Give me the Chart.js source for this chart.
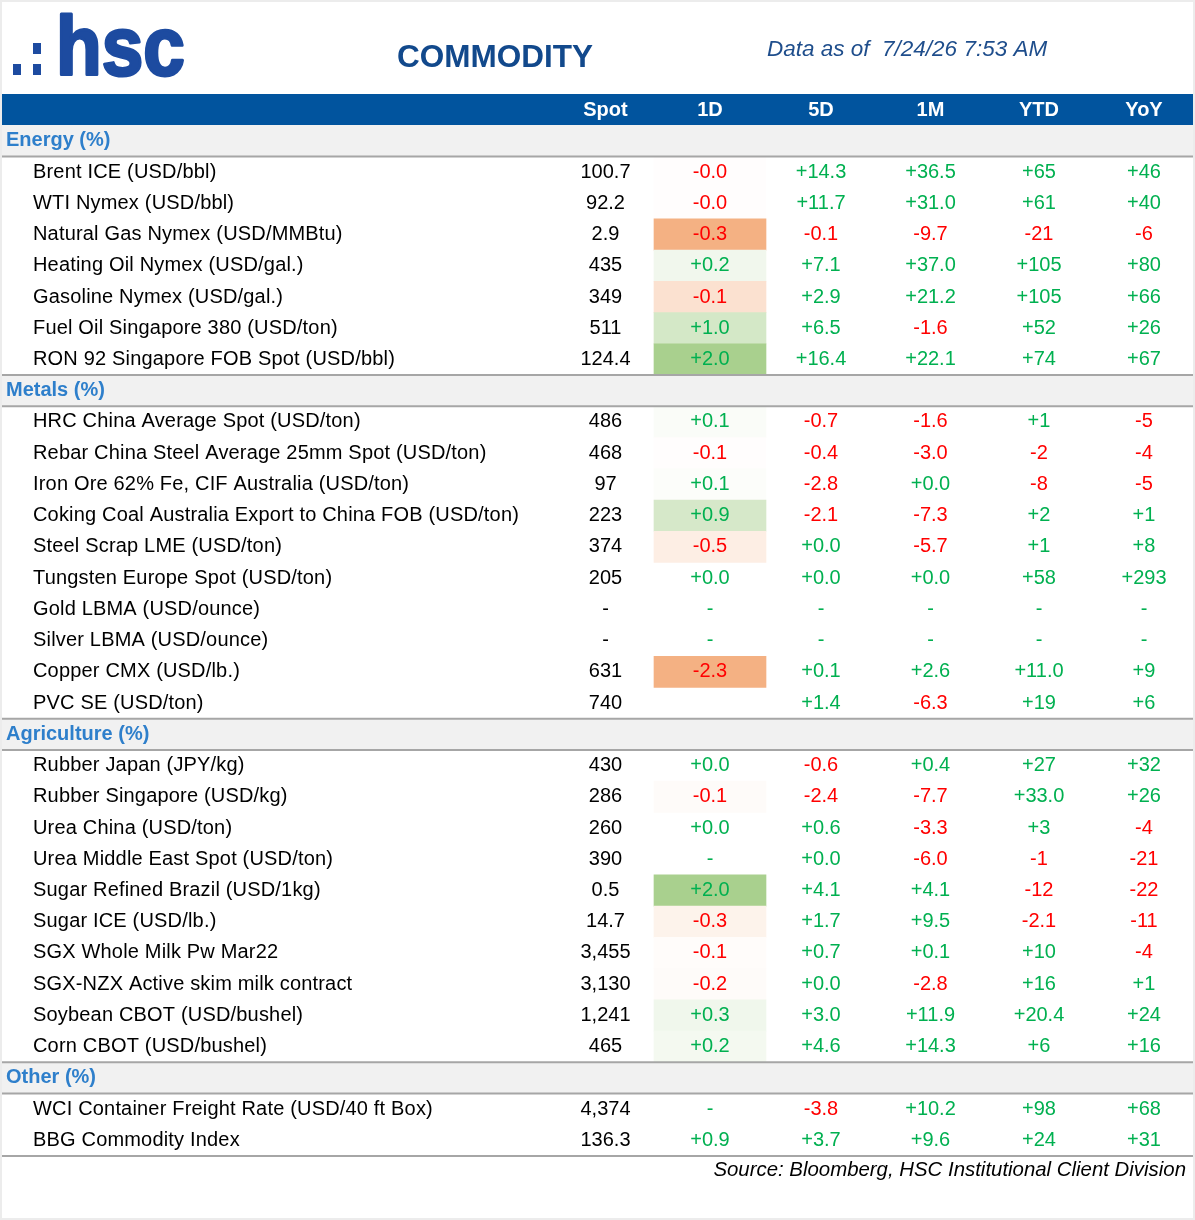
<!DOCTYPE html>
<html><head><meta charset="utf-8">
<script src="https://cdn.jsdelivr.net/npm/chart.js@4"></script>
<style>html,body{margin:0;padding:0;background:#fff}canvas{display:block}</style>
</head><body>
<canvas id="c" width="1195" height="1220"></canvas>
<script>
// ---------- DATA ----------
const columnLabels = ["Spot", "1D", "5D", "1M", "YTD", "YoY"];
const sectionNames = ["Energy (%)", "Metals (%)", "Agriculture (%)", "Other (%)"];
const sectionSizes = [7, 10, 10, 2];
const itemNames = [
  "Brent ICE (USD/bbl)", "WTI Nymex (USD/bbl)", "Natural Gas Nymex (USD/MMBtu)", "Heating Oil Nymex (USD/gal.)",
  "Gasoline Nymex (USD/gal.)", "Fuel Oil Singapore 380 (USD/ton)", "RON 92 Singapore FOB Spot (USD/bbl)",
  "HRC China Average Spot (USD/ton)", "Rebar China Steel Average 25mm Spot (USD/ton)", "Iron Ore 62% Fe, CIF Australia (USD/ton)",
  "Coking Coal Australia Export to China FOB (USD/ton)", "Steel Scrap LME (USD/ton)", "Tungsten Europe Spot (USD/ton)",
  "Gold LBMA (USD/ounce)", "Silver LBMA (USD/ounce)", "Copper CMX (USD/lb.)", "PVC SE (USD/ton)",
  "Rubber Japan (JPY/kg)", "Rubber Singapore (USD/kg)", "Urea China (USD/ton)", "Urea Middle East Spot (USD/ton)",
  "Sugar Refined Brazil (USD/1kg)", "Sugar ICE (USD/lb.)", "SGX Whole Milk Pw Mar22", "SGX-NZX Active skim milk contract",
  "Soybean CBOT (USD/bushel)", "Corn CBOT (USD/bushel)",
  "WCI Container Freight Rate (USD/40 ft Box)", "BBG Commodity Index"
];
const spotValues = ["100.7","92.2","2.9","435","349","511","124.4",
  "486","468","97","223","374","205","-","-","631","740",
  "430","286","260","390","0.5","14.7","3,455","3,130","1,241","465",
  "4,374","136.3"];
const change1D = ["-0.0","-0.0","-0.3","+0.2","-0.1","+1.0","+2.0",
  "+0.1","-0.1","+0.1","+0.9","-0.5","+0.0","-","-","-2.3","",
  "+0.0","-0.1","+0.0","-","+2.0","-0.3","-0.1","-0.2","+0.3","+0.2",
  "-","+0.9"];
const change5D = ["+14.3","+11.7","-0.1","+7.1","+2.9","+6.5","+16.4",
  "-0.7","-0.4","-2.8","-2.1","+0.0","+0.0","-","-","+0.1","+1.4",
  "-0.6","-2.4","+0.6","+0.0","+4.1","+1.7","+0.7","+0.0","+3.0","+4.6",
  "-3.8","+3.7"];
const change1M = ["+36.5","+31.0","-9.7","+37.0","+21.2","-1.6","+22.1",
  "-1.6","-3.0","+0.0","-7.3","-5.7","+0.0","-","-","+2.6","-6.3",
  "+0.4","-7.7","-3.3","-6.0","+4.1","+9.5","+0.1","-2.8","+11.9","+14.3",
  "+10.2","+9.6"];
const changeYTD = ["+65","+61","-21","+105","+105","+52","+74",
  "+1","-2","-8","+2","+1","+58","-","-","+11.0","+19",
  "+27","+33.0","+3","-1","-12","-2.1","+10","+16","+20.4","+6",
  "+98","+24"];
const changeYoY = ["+46","+40","-6","+80","+66","+26","+67",
  "-5","-4","-5","+1","+8","+293","-","-","+9","+6",
  "+32","+26","-4","-21","-22","-11","-4","+1","+24","+16",
  "+68","+31"];
// heat-map intensity of the 1D cell (-1 strongest fall .. +1 strongest rise), null = no shading
const shade1D = [-0.02,-0.02,-1,0.16,-0.38,0.5,1,
  0.06,-0.02,0.04,0.48,-0.22,null,null,null,-1,null,
  null,-0.05,null,null,1,-0.16,-0.04,-0.05,0.17,0.13,
  null,null];

// ---------- LAYOUT / STYLE ----------
const W = 1195, H = 1220;
const colEdges = [0, 557, 654, 766, 876, 985, 1093, 1195];
const FONT = '"Liberation Sans", Arial, sans-serif';
const GREEN = '#00b050', RED = '#ff0000';
const HEADER_BG = '#01549e', SECTION_BG = '#f1f1f1', SECTION_TXT = '#2e7fcb', LINE = '#a6a6a6';

const rows = [{ type: 'header', label: 'header' }];
let k = 0;
sectionNames.forEach((s, si) => {
  rows.push({ type: 'section', text: s, label: s });
  for (let j = 0; j < sectionSizes[si]; j++) { rows.push({ type: 'item', idx: k, label: itemNames[k] }); k++; }
});

function mix(a, b, t) {
  const pa = [1,3,5].map(i => parseInt(a.substr(i,2),16));
  const pb = [1,3,5].map(i => parseInt(b.substr(i,2),16));
  return 'rgb(' + pa.map((v,i) => Math.round(v + (pb[i]-v)*t)).join(',') + ')';
}
function shadeColor(s) {
  if (s == null) return 'rgba(0,0,0,0)';
  return s >= 0 ? mix('#ffffff', '#a9d08e', Math.min(1, s)) : mix('#ffffff', '#f4b183', Math.min(1, -s));
}
function changeColor(s) {
  if (s.startsWith('+')) return GREEN;
  if (s === '-') return GREEN;
  return RED;
}

const tablePlugin = {
  id: 'tableText',
  beforeDraw(chart) {
    const ctx = chart.ctx;
    ctx.save();
    ctx.fillStyle = '#ffffff';
    ctx.fillRect(0, 0, W, H);
    ctx.restore();
  },
  afterDatasetsDraw(chart) {
    const ctx = chart.ctx;
    const xs = chart.scales.x, ys = chart.scales.y;
    const band = ys.getPixelForValue(1) - ys.getPixelForValue(0);
    const colCenter = c => xs.getPixelForValue((colEdges[c + 1] + colEdges[c + 2]) / 2);
    ctx.save();
    ctx.textBaseline = 'middle';
    rows.forEach((r, i) => {
      const yc = ys.getPixelForValue(i);
      if (r.type === 'header') {
        ctx.font = 'bold 20px ' + FONT;
        ctx.fillStyle = '#ffffff';
        ctx.textAlign = 'center';
        columnLabels.forEach((l, c) => ctx.fillText(l, colCenter(c), yc + 1));
      } else if (r.type === 'section') {
        ctx.strokeStyle = LINE; ctx.lineWidth = 2;
        if (i > 1) { ctx.beginPath(); ctx.moveTo(xs.left, yc - band/2); ctx.lineTo(xs.right, yc - band/2); ctx.stroke(); }
        ctx.beginPath(); ctx.moveTo(xs.left, yc + band/2); ctx.lineTo(xs.right, yc + band/2); ctx.stroke();
        ctx.font = 'bold 20px ' + FONT;
        ctx.fillStyle = SECTION_TXT;
        ctx.textAlign = 'left';
        ctx.fillText(r.text, xs.getPixelForValue(6), yc);
      } else {
        const n = r.idx;
        ctx.font = '20px ' + FONT;
        ctx.textAlign = 'left';
        ctx.fillStyle = '#000000';
        if ('letterSpacing' in ctx) ctx.letterSpacing = '0.18px';
        ctx.fillText(itemNames[n], xs.getPixelForValue(33), yc);
        if ('letterSpacing' in ctx) ctx.letterSpacing = '0px';
        ctx.textAlign = 'center';
        ctx.fillText(spotValues[n], colCenter(0), yc);
        [change1D, change5D, change1M, changeYTD, changeYoY].forEach((arr, c) => {
          const s = arr[n];
          if (!s) return;
          ctx.fillStyle = changeColor(s);
          ctx.fillText(s, colCenter(c + 1), yc);
        });
      }
    });
    // bottom rule
    const yb = ys.getPixelForValue(rows.length - 1) + band / 2;
    ctx.strokeStyle = LINE; ctx.lineWidth = 2;
    ctx.beginPath(); ctx.moveTo(xs.left, yb); ctx.lineTo(xs.right, yb); ctx.stroke();
    ctx.restore();
  },
  afterDraw(chart) {
    const ctx = chart.ctx;
    ctx.save();
    // logo
    ctx.fillStyle = '#1d4ba0';
    ctx.strokeStyle = '#1d4ba0';
    ctx.fillRect(13, 64, 8, 11);
    ctx.fillRect(33, 64, 8, 11);
    ctx.fillRect(33, 43, 8, 11);
    ctx.save();
    ctx.translate(56, 75);
    ctx.scale(0.9, 1);
    ctx.font = 'bold 83px ' + FONT;
    ctx.textBaseline = 'alphabetic';
    ctx.textAlign = 'left';
    ctx.lineWidth = 3;
    ctx.lineJoin = 'round';
    ctx.fillText('hsc', 0, 0);
    ctx.strokeText('hsc', 0, 0);
    ctx.restore();
    // title
    ctx.fillStyle = '#12498c';
    ctx.font = 'bold 31.5px ' + FONT;
    ctx.textAlign = 'center';
    ctx.textBaseline = 'alphabetic';
    ctx.fillText('COMMODITY', 495, 67);
    // date
    ctx.fillStyle = '#1f4e8c';
    ctx.font = 'italic 22.5px ' + FONT;
    ctx.textAlign = 'left';
    ctx.fillText('Data as of  7/24/26 7:53 AM', 767, 56);
    // source
    ctx.fillStyle = '#000000';
    ctx.font = 'italic 20.4px ' + FONT;
    ctx.textAlign = 'right';
    ctx.textBaseline = 'middle';
    ctx.fillText('Source: Bloomberg, HSC Institutional Client Division', 1186, 1170);
    // frame
    ctx.strokeStyle = '#ececec';
    ctx.lineWidth = 2;
    ctx.strokeRect(1, 1, W - 2, H - 2);
    ctx.restore();
  }
};

new Chart(document.getElementById('c'), {
  type: 'bar',
  data: {
    labels: rows.map(r => r.label),
    datasets: [
      {
        label: 'bands',
        data: rows.map(r => (r.type === 'header' || r.type === 'section') ? [colEdges[0], colEdges[7]] : null),
        backgroundColor: rows.map(r => r.type === 'header' ? HEADER_BG : SECTION_BG),
        grouped: false, barPercentage: 1, categoryPercentage: 1, borderWidth: 0
      },
      {
        label: '1D heat',
        data: rows.map(r => (r.type === 'item' && shade1D[r.idx] != null) ? [colEdges[2], colEdges[3]] : null),
        backgroundColor: rows.map(r => r.type === 'item' ? shadeColor(shade1D[r.idx]) : 'rgba(0,0,0,0)'),
        grouped: false, barPercentage: 1, categoryPercentage: 1, borderWidth: 0
      }
    ]
  },
  options: {
    indexAxis: 'y',
    responsive: false,
    animation: false,
    layout: { padding: { top: 94, bottom: 64, left: 0, right: 0 } },
    scales: {
      x: { type: 'linear', min: 0, max: W, display: false },
      y: { type: 'category', display: false, offset: true, grid: { display: false } }
    },
    plugins: { legend: { display: false }, tooltip: { enabled: false } }
  },
  plugins: [tablePlugin]
});
</script>
</body></html>
